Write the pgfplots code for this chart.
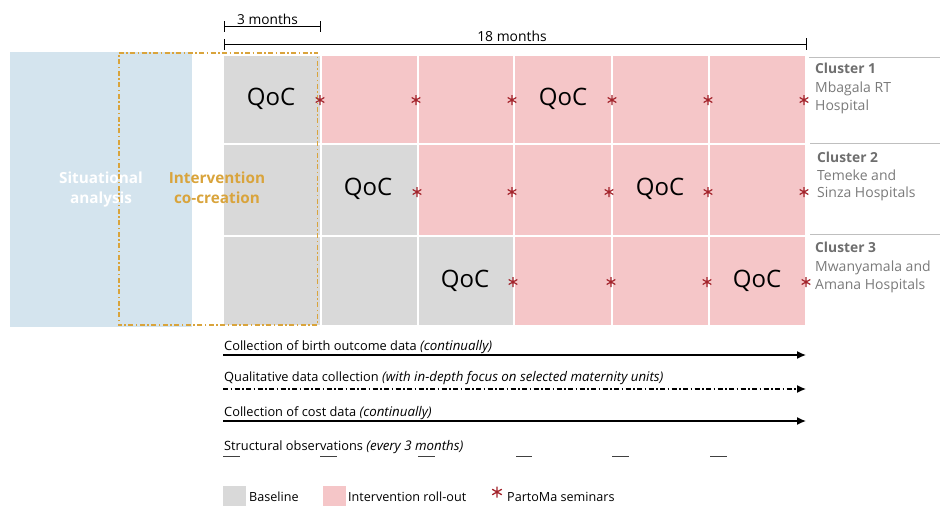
\documentclass[border=0pt]{standalone}
\usepackage{pgfplots}
\pgfplotsset{compat=1.18}
\usepackage{fontspec}
\setmainfont{Open Sans}
\usetikzlibrary{arrows.meta}
\definecolor{sitblue}{HTML}{D4E4EE}
\definecolor{basegray}{HTML}{D9D9D9}
\definecolor{rollpink}{HTML}{F5C6C8}
\definecolor{cocreate}{HTML}{D9A43C}
\definecolor{semred}{HTML}{A3232B}
\definecolor{clgray}{HTML}{7A7A7A}
\definecolor{clgrayb}{HTML}{6E6E6E}
\definecolor{linegray}{HTML}{BFBFBF}
\newcommand{\txt}{\fontsize{12.8}{15}\selectfont}
\newcommand{\itx}[1]{{\fontsize{13.3}{15}\selectfont\itshape #1}}
\begin{document}
\begin{tikzpicture}
\begin{axis}[width=940pt,height=506pt,scale only axis,
  xmin=0,xmax=940,ymin=0,ymax=506,y dir=reverse,hide axis,clip=false]
% situational analysis block
\addplot[fill=sitblue,draw=none] coordinates {(10,52) (192,52) (192,327) (10,327)} -- cycle;
% row 1
\addplot[fill=basegray,draw=none] coordinates {(224,56) (319.5,56) (319.5,143) (224,143)} -- cycle;
\addplot[fill=rollpink,draw=none] coordinates {(321.5,56) (416.5,56) (416.5,143) (321.5,143)} -- cycle;
\addplot[fill=rollpink,draw=none] coordinates {(418.5,56) (513,56) (513,143) (418.5,143)} -- cycle;
\addplot[fill=rollpink,draw=none] coordinates {(515,56) (611,56) (611,143) (515,143)} -- cycle;
\addplot[fill=rollpink,draw=none] coordinates {(613,56) (708,56) (708,143) (613,143)} -- cycle;
\addplot[fill=rollpink,draw=none] coordinates {(710,56) (805,56) (805,143) (710,143)} -- cycle;
% row 2
\addplot[fill=basegray,draw=none] coordinates {(224,145) (319.5,145) (319.5,234.5) (224,234.5)} -- cycle;
\addplot[fill=basegray,draw=none] coordinates {(321.5,145) (416.5,145) (416.5,234.5) (321.5,234.5)} -- cycle;
\addplot[fill=rollpink,draw=none] coordinates {(418.5,145) (513,145) (513,234.5) (418.5,234.5)} -- cycle;
\addplot[fill=rollpink,draw=none] coordinates {(515,145) (611,145) (611,234.5) (515,234.5)} -- cycle;
\addplot[fill=rollpink,draw=none] coordinates {(613,145) (708,145) (708,234.5) (613,234.5)} -- cycle;
\addplot[fill=rollpink,draw=none] coordinates {(710,145) (805,145) (805,234.5) (710,234.5)} -- cycle;
% row 3
\addplot[fill=basegray,draw=none] coordinates {(224,236.5) (319.5,236.5) (319.5,325) (224,325)} -- cycle;
\addplot[fill=basegray,draw=none] coordinates {(321.5,236.5) (416.5,236.5) (416.5,325) (321.5,325)} -- cycle;
\addplot[fill=basegray,draw=none] coordinates {(418.5,236.5) (513,236.5) (513,325) (418.5,325)} -- cycle;
\addplot[fill=rollpink,draw=none] coordinates {(515,236.5) (611,236.5) (611,325) (515,325)} -- cycle;
\addplot[fill=rollpink,draw=none] coordinates {(613,236.5) (708,236.5) (708,325) (613,325)} -- cycle;
\addplot[fill=rollpink,draw=none] coordinates {(710,236.5) (805,236.5) (805,325) (710,325)} -- cycle;
% intervention co-creation frame
\addplot[draw=cocreate,line width=1.8pt,dash pattern=on 5pt off 2.5pt on 1.5pt off 2.5pt] coordinates {(118.7,52.7) (317.5,52.7) (317.5,325.3) (118.7,325.3)} -- cycle;
% time brackets
\addplot[black,line width=0.9pt] coordinates {(224,26) (320,26)};
\addplot[black,line width=0.9pt] coordinates {(224,21) (224,32)};
\addplot[black,line width=0.9pt] coordinates {(320,21) (320,32)};
\addplot[black,line width=0.9pt] coordinates {(224,44) (806,44)};
\addplot[black,line width=0.9pt] coordinates {(224,39) (224,50)};
\addplot[black,line width=0.9pt] coordinates {(806,38) (806,50)};
% cluster separators
\addplot[linegray,line width=0.9pt] coordinates {(809,57) (940,57)};
\addplot[linegray,line width=0.9pt] coordinates {(810,143.5) (940,143.5)};
\addplot[linegray,line width=0.9pt] coordinates {(810,234.5) (940,234.5)};
% PartoMa seminars
\addplot[only marks,mark=asterisk,mark size=5pt,semred,line width=1.2pt] coordinates {
 (320,100) (416,100) (512,100) (612,100) (708,100) (804,100)
 (417,192) (512,192) (609,192) (708,192) (804,192)
 (513,282) (611,282) (707,282) (806,282)};
% data collection lines
\addplot[black,line width=1.3pt,-{Latex[length=9pt,width=8pt]}] coordinates {(223,355) (806,355)};
\addplot[black,line width=1.3pt,dash pattern=on 5pt off 2.5pt on 1.5pt off 2.5pt] coordinates {(223,389) (798,389)};
\addplot[black,line width=1.3pt,-{Latex[length=9pt,width=8pt]}] coordinates {(797,389) (806,389)};
\addplot[black,line width=1.3pt,-{Latex[length=9pt,width=8pt]}] coordinates {(223,421) (806,421)};
% structural observations
\addplot[black!75,line width=1pt] coordinates {(223,456) (240,456)};
\addplot[black!75,line width=1pt] coordinates {(320,456) (337,456)};
\addplot[black!75,line width=1pt] coordinates {(418,456) (435,456)};
\addplot[black!75,line width=1pt] coordinates {(516,456) (532,456)};
\addplot[black!75,line width=1pt] coordinates {(612,456) (629,456)};
\addplot[black!75,line width=1pt] coordinates {(710,456) (727,456)};
% legend boxes
\addplot[fill=basegray,draw=none] coordinates {(223,486) (245.5,486) (245.5,506) (223,506)} -- cycle;
\addplot[fill=rollpink,draw=none] coordinates {(323,486) (345.5,486) (345.5,506) (323,506)} -- cycle;
\addplot[only marks,mark=asterisk,mark size=5.5pt,semred,line width=1.3pt] coordinates {(497,492)};
% texts
\node[anchor=base,font=\fontsize{13.7}{15}\selectfont] at (axis cs:267.5,24.5) {3 months};
\node[anchor=base,font=\fontsize{13.9}{15}\selectfont] at (axis cs:512,41.5) {18 months};
\node[anchor=base,font=\fontsize{15.3}{17}\selectfont\bfseries,text=white] at (axis cs:101,183.3) {Situational};
\node[anchor=base,font=\fontsize{15.3}{17}\selectfont\bfseries,text=white] at (axis cs:101,203) {analysis};
\node[anchor=base,font=\fontsize{15.3}{17}\selectfont\bfseries,text=cocreate] at (axis cs:217,183.3) {Intervention};
\node[anchor=base,font=\fontsize{15.3}{17}\selectfont\bfseries,text=cocreate] at (axis cs:217,203) {co-creation};
\node[anchor=base,font=\fontsize{24}{26}\selectfont] at (axis cs:271,105) {QoC};
\node[anchor=base,font=\fontsize{24}{26}\selectfont] at (axis cs:563,105) {QoC};
\node[anchor=base,font=\fontsize{24}{26}\selectfont] at (axis cs:368,195) {QoC};
\node[anchor=base,font=\fontsize{24}{26}\selectfont] at (axis cs:660,195) {QoC};
\node[anchor=base,font=\fontsize{24}{26}\selectfont] at (axis cs:465,287) {QoC};
\node[anchor=base,font=\fontsize{24}{26}\selectfont] at (axis cs:757,287) {QoC};
\node[anchor=base west,inner sep=0pt,font=\fontsize{13.8}{15}\selectfont\bfseries,text=clgrayb] at (axis cs:815,73.5) {Cluster 1};
\node[anchor=base west,inner sep=0pt,font=\fontsize{14}{15}\selectfont,text=clgray] at (axis cs:815,92) {Mbagala RT};
\node[anchor=base west,inner sep=0pt,font=\fontsize{14}{15}\selectfont,text=clgray] at (axis cs:815,110) {Hospital};
\node[anchor=base west,inner sep=0pt,font=\fontsize{13.8}{15}\selectfont\bfseries,text=clgrayb] at (axis cs:817,162) {Cluster 2};
\node[anchor=base west,inner sep=0pt,font=\fontsize{14}{15}\selectfont,text=clgray] at (axis cs:817,180) {Temeke and};
\node[anchor=base west,inner sep=0pt,font=\fontsize{14}{15}\selectfont,text=clgray] at (axis cs:817,197.7) {Sinza Hospitals};
\node[anchor=base west,inner sep=0pt,font=\fontsize{13.8}{15}\selectfont\bfseries,text=clgrayb] at (axis cs:815,252.7) {Cluster 3};
\node[anchor=base west,inner sep=0pt,font=\fontsize{14}{15}\selectfont,text=clgray] at (axis cs:815,271) {Mwanyamala and};
\node[anchor=base west,inner sep=0pt,font=\fontsize{14}{15}\selectfont,text=clgray] at (axis cs:815,289) {Amana Hospitals};
\node[anchor=base west,inner sep=0pt,font=\txt] at (axis cs:224,350.7) {Collection of birth outcome data \itx{(continually)}};
\node[anchor=base west,inner sep=0pt,font=\txt] at (axis cs:224,381.7) {Qualitative data collection \itx{(with in-depth focus on selected maternity units)}};
\node[anchor=base west,inner sep=0pt,font=\txt] at (axis cs:224,416) {Collection of cost data \itx{(continually)}};
\node[anchor=base west,inner sep=0pt,font=\txt] at (axis cs:224,450.7) {Structural observations \itx{(every 3 months)}};
\node[anchor=base west,inner sep=0pt,font=\fontsize{12.6}{15}\selectfont] at (axis cs:249,501.7) {Baseline};
\node[anchor=base west,inner sep=0pt,font=\fontsize{12.6}{15}\selectfont] at (axis cs:348,501.7) {Intervention roll-out};
\node[anchor=base west,inner sep=0pt,font=\fontsize{12.6}{15}\selectfont] at (axis cs:507,501.7) {PartoMa seminars};
\end{axis}
\pgfresetboundingbox
\path[use as bounding box] (current axis.south west) rectangle (current axis.north east);
\end{tikzpicture}
\end{document}
